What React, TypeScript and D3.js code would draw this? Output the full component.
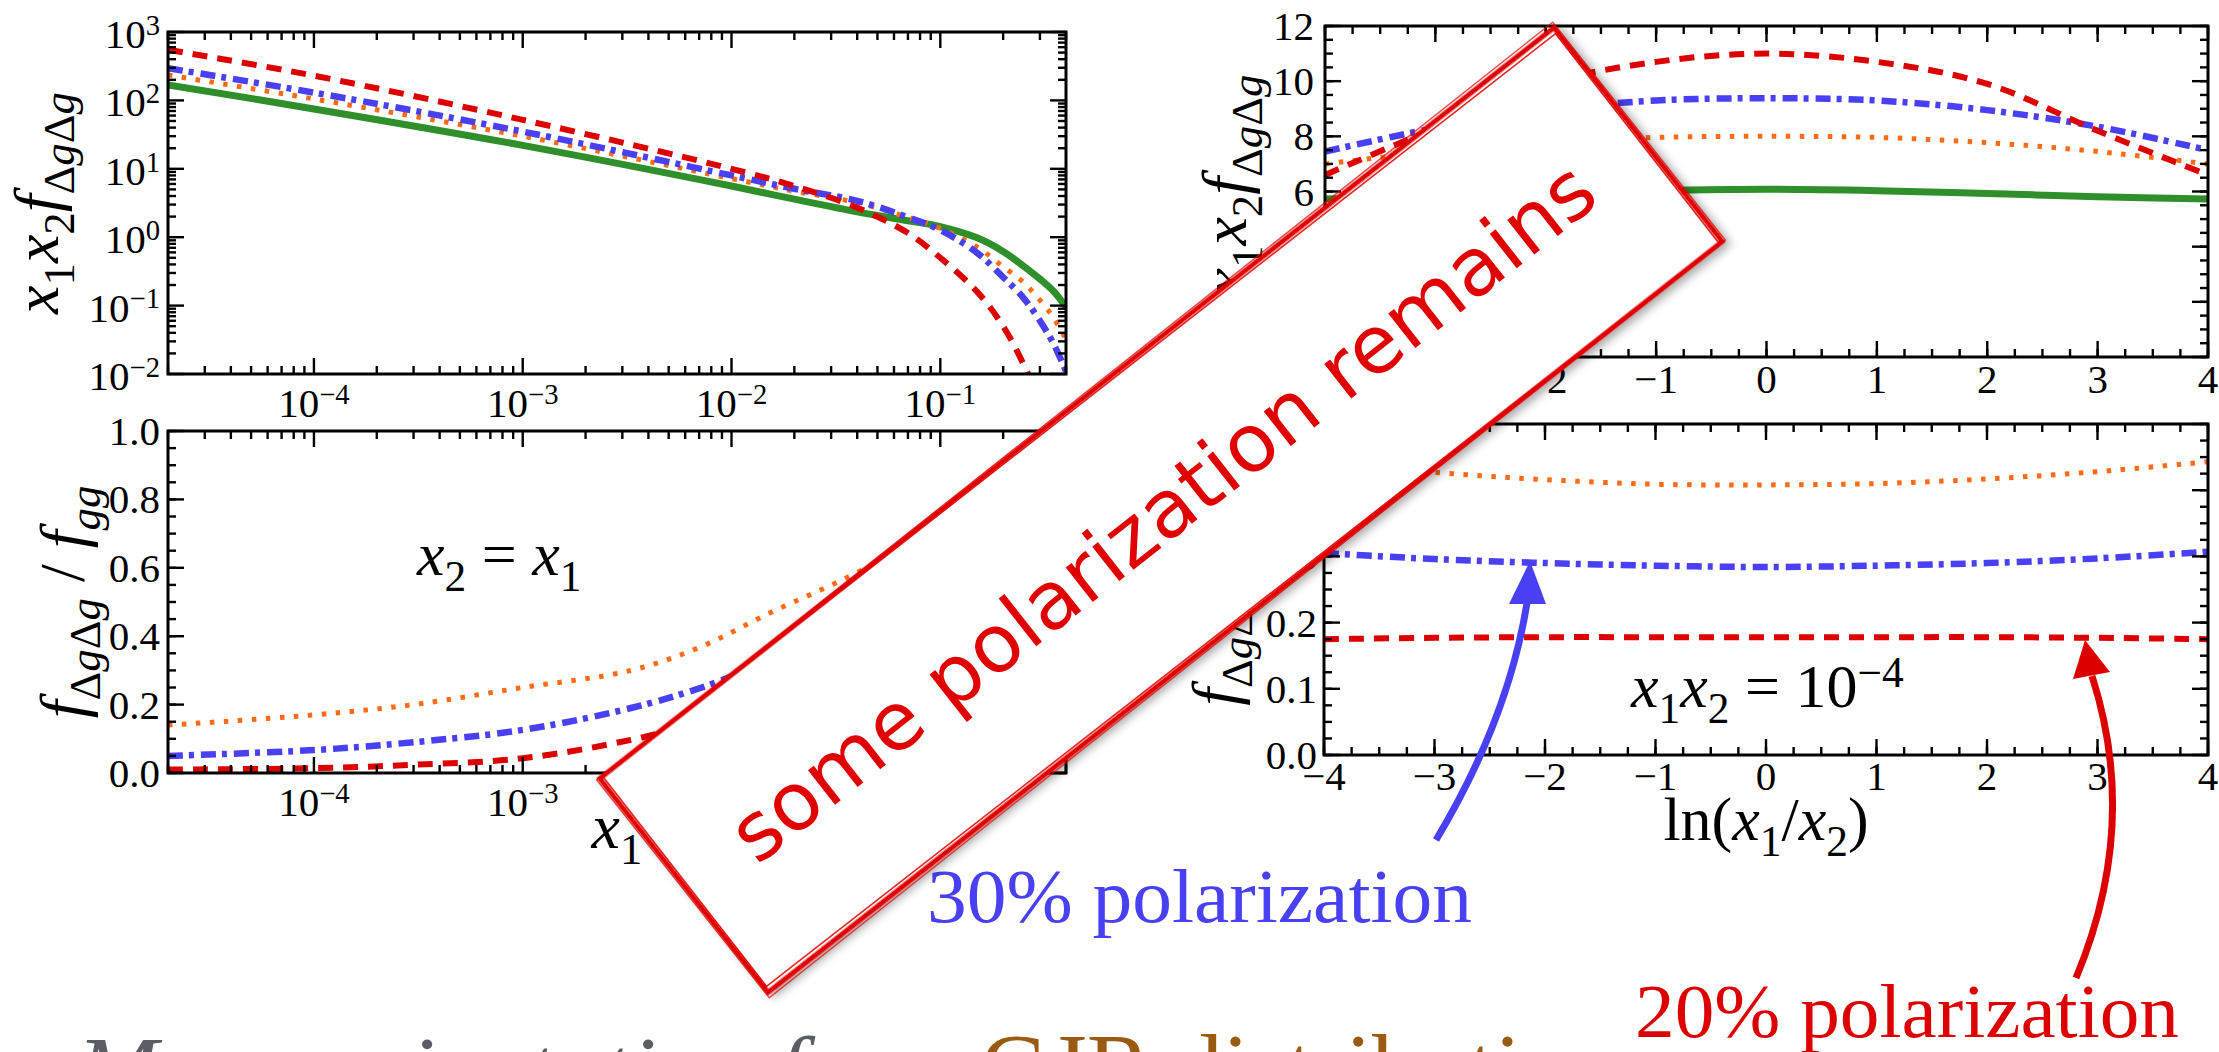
import React from "react";
import * as d3 from "d3";

// ---------- data ----------
// top-left: x1 = x2 scan, x1 x2 f_{ΔgΔg} (log-log)
const diagX = [2e-5, 1e-4, 1e-3, 1e-2, 0.02, 0.04, 0.07, 0.1, 0.15, 0.2, 0.25, 0.3, 0.35, 0.4];
const diagGreen = [168, 75, 22, 5.6, 3.6, 2.35, 1.74, 1.43, 0.98, 0.62, 0.38, 0.245, 0.16, 0.095];
const diagOrange = [235, 105, 30, 7.2, 4.7, 3.2, 1.95, 1.35, 0.72, 0.37, 0.22, 0.12, 0.065, 0.032];
const diagBlue = [295, 130, 35, 8.0, 5.1, 3.4, 1.95, 1.27, 0.59, 0.26, 0.13, 0.06, 0.027, 0.011];
const diagRed = [550, 230, 52, 10, 5.6, 2.7, 1.15, 0.5, 0.16, 0.05, 0.014, 0.004, 0.001, 0.0003];

// bottom-left: ratio f_{ΔgΔg}/f_{gg} at x1 = x2
const ratioX = [2e-5, 1e-4, 3e-4, 1e-3, 3.3e-3, 7.2e-3, 0.0155, 0.034, 0.073, 0.158, 0.25, 0.4];
const ratioOrange = [0.14, 0.17, 0.2, 0.25, 0.3, 0.37, 0.47, 0.565, 0.67, 0.8, 0.88, 0.96];
const ratioBlue = [0.05, 0.067, 0.09, 0.126, 0.19, 0.25, 0.33, 0.42, 0.52, 0.62, 0.68, 0.74];
const ratioRed = [0.01, 0.014, 0.024, 0.043, 0.097, 0.15, 0.22, 0.3, 0.39, 0.48, 0.53, 0.58];

// right column: scan in ln(x1/x2) at x1 x2 = 1e-4
const lnX = [-4, -3, -2, -1, 0, 1, 2, 3, 4];
const lnGreen = [5.73, 5.83, 5.93, 6.03, 6.08, 6.03, 5.93, 5.81, 5.73];
const lnOrange = [7.0, 7.45, 7.77, 7.96, 8.0, 7.96, 7.77, 7.45, 7.0];
const lnBlue = [7.45, 8.3, 8.95, 9.3, 9.38, 9.3, 8.95, 8.35, 7.5];
const lnRed = [6.6, 8.3, 9.9, 10.7, 11.0, 10.7, 9.9, 8.2, 6.6];

const lnRatioOrange = [0.443, 0.427, 0.416, 0.409, 0.408, 0.41, 0.417, 0.428, 0.443];
const lnRatioBlue = [0.305, 0.296, 0.29, 0.286, 0.284, 0.286, 0.29, 0.297, 0.307];
const lnRatioRed = [0.175, 0.177, 0.178, 0.178, 0.178, 0.178, 0.178, 0.177, 0.175];

// ---------- styling ----------
const SERIF = "'Liberation Serif', 'Times New Roman', serif";
const RED = "#dd0000";
const BLUE = "#4840f2";
const ORANGE = "#ff6b14";
const GREEN = "#2f8f2a";

const styles = {
  green: { stroke: GREEN, width: 7, dash: "none" },
  orange: { stroke: ORANGE, width: 5, dash: "4.5 9.5" },
  blue: { stroke: BLUE, width: 6.5, dash: "15 6 5 7" },
  red: { stroke: RED, width: 6, dash: "15 10" },
};

const P1 = { left: 168, right: 1066, top: 32, bottom: 374 };
const P2 = { left: 168, right: 1066, top: 431, bottom: 773 };
const P3 = { left: 1325, right: 2208, top: 26, bottom: 357 };
const P4 = { left: 1324, right: 2208, top: 424, bottom: 755 };

type Box = typeof P1;
type Part = { t: string; it?: boolean; sub?: boolean; sup?: boolean };

const x1s = d3.scaleLog().domain([2e-5, 0.4]).range([P1.left, P1.right]);
const y1s = d3.scaleLog().domain([1e-2, 1e3]).range([P1.bottom, P1.top]);
const y2s = d3.scaleLinear().domain([0, 1]).range([P2.bottom, P2.top]);
const x3s = d3.scaleLinear().domain([-4, 4]).range([P3.left, P3.right]);
const y3s = d3.scaleLinear().domain([0, 12]).range([P3.bottom, P3.top]);
const x4s = d3.scaleLinear().domain([-4, 4]).range([P4.left, P4.right]);
const y4s = d3.scaleLinear().domain([0, 0.5]).range([P4.bottom, P4.top]);

const isDecade = (v: number) => Math.abs(Math.log10(v) - Math.round(Math.log10(v))) < 1e-9;
const logMajor = (s: any) => s.ticks().filter(isDecade);
const logMinor = (s: any) => s.ticks().filter((v: number) => !isDecade(v));
const steps = (lo: number, hi: number, st: number) =>
  d3.range(Math.round((hi - lo) / st) + 1).map((i) => +(lo + i * st).toFixed(4));
const minus = (s: string) => s.replace("-", "\u2212");

function MathText({ parts, size, ...rest }: { parts: Part[]; size: number; [k: string]: any }) {
  let cur = 0;
  return (
    <text fontSize={size} fontFamily={SERIF} {...rest}>
      {parts.map((p, i) => {
        const target = p.sub ? 0.25 * size : p.sup ? -0.32 * size : 0;
        const dy = target - cur;
        cur = target;
        return (
          <tspan key={i} dy={dy} fontSize={p.sub || p.sup ? 0.7 * size : size} fontStyle={p.it ? "italic" : "normal"}>
            {p.t}
          </tspan>
        );
      })}
    </text>
  );
}

function Frame({ box, xs, ys, xMajor, xMinor, yMajor, yMinor }: any) {
  const M = 16;
  const m = 8;
  const segs: number[][] = [];
  xMajor.forEach((v: number) => {
    const x = xs(v);
    segs.push([x, box.bottom, x, box.bottom - M], [x, box.top, x, box.top + M]);
  });
  xMinor.forEach((v: number) => {
    const x = xs(v);
    segs.push([x, box.bottom, x, box.bottom - m], [x, box.top, x, box.top + m]);
  });
  yMajor.forEach((v: number) => {
    const y = ys(v);
    segs.push([box.left, y, box.left + M, y], [box.right, y, box.right - M, y]);
  });
  yMinor.forEach((v: number) => {
    const y = ys(v);
    segs.push([box.left, y, box.left + m, y], [box.right, y, box.right - m, y]);
  });
  return (
    <g stroke="#000">
      {segs.map((s, i) => (
        <line key={i} x1={s[0]} y1={s[1]} x2={s[2]} y2={s[3]} strokeWidth={2.4} />
      ))}
      <rect x={box.left} y={box.top} width={box.right - box.left} height={box.bottom - box.top} fill="none" strokeWidth={3} />
    </g>
  );
}

function Series({ xv, yv, xs, ys, st, clip }: any) {
  const gen = d3
    .line<number>()
    .x((_, i) => xs(xv[i]))
    .y((d) => ys(d))
    .curve(d3.curveCatmullRom.alpha(0.5));
  return (
    <path
      d={gen(yv) || ""}
      fill="none"
      stroke={st.stroke}
      strokeWidth={st.width}
      strokeDasharray={st.dash}
      clipPath={`url(#${clip})`}
    />
  );
}

const logLabel = (v: number): Part[] => [{ t: "10" }, { t: minus(String(Math.round(Math.log10(v)))), sup: true }];

const fDD: Part[] = [
  { t: "f", it: true },
  { t: "Δ", sub: true },
  { t: "g", sub: true, it: true },
  { t: "Δ", sub: true },
  { t: "g", sub: true, it: true },
];
const xxLabel: Part[] = [{ t: "x", it: true }, { t: "1", sub: true }, { t: "x", it: true }, { t: "2", sub: true }, ...fDD];
const ratioLabel: Part[] = [
  ...fDD,
  { t: " / " },
  { t: "f", it: true },
  { t: "g", sub: true, it: true },
  { t: "g", sub: true, it: true },
];

export default function App() {
  const TS = 41;
  const clips: [string, Box][] = [
    ["c1", P1],
    ["c2", P2],
    ["c3", P3],
    ["c4", P4],
  ];
  return (
    <div style={{ position: "fixed", left: 0, top: 0 }}>
      <svg width={2219} height={1052} style={{ display: "block", background: "#fff" }}>
        <defs>
          {clips.map(([id, b]) => (
            <clipPath id={id} key={id}>
              <rect x={b.left} y={b.top} width={b.right - b.left} height={b.bottom - b.top} />
            </clipPath>
          ))}
          <filter id="shadow" x="-10%" y="-30%" width="120%" height="160%">
            <feDropShadow dx="3" dy="5" stdDeviation="5" floodColor="#000" floodOpacity="0.35" />
          </filter>
        </defs>

        {/* ---------- top-left ---------- */}
        <Series xv={diagX} yv={diagGreen} xs={x1s} ys={y1s} st={styles.green} clip="c1" />
        <Series xv={diagX} yv={diagOrange} xs={x1s} ys={y1s} st={styles.orange} clip="c1" />
        <Series xv={diagX} yv={diagBlue} xs={x1s} ys={y1s} st={styles.blue} clip="c1" />
        <Series xv={diagX} yv={diagRed} xs={x1s} ys={y1s} st={styles.red} clip="c1" />
        <Frame box={P1} xs={x1s} ys={y1s} xMajor={logMajor(x1s)} xMinor={logMinor(x1s)} yMajor={logMajor(y1s)} yMinor={logMinor(y1s)} />
        {logMajor(y1s).map((v: number) => (
          <MathText key={v} parts={logLabel(v)} size={TS} x={P1.left - 8} y={y1s(v) + 16} textAnchor="end" />
        ))}
        {logMajor(x1s).map((v: number) => (
          <MathText key={v} parts={logLabel(v)} size={TS} x={x1s(v)} y={417} textAnchor="middle" />
        ))}
        <MathText parts={xxLabel} size={64} transform={`translate(58,${(P1.top + P1.bottom) / 2}) rotate(-90)`} textAnchor="middle" />

        {/* ---------- bottom-left ---------- */}
        <Series xv={ratioX} yv={ratioOrange} xs={x1s} ys={y2s} st={styles.orange} clip="c2" />
        <Series xv={ratioX} yv={ratioBlue} xs={x1s} ys={y2s} st={styles.blue} clip="c2" />
        <Series xv={ratioX} yv={ratioRed} xs={x1s} ys={y2s} st={styles.red} clip="c2" />
        <Frame box={P2} xs={x1s} ys={y2s} xMajor={logMajor(x1s)} xMinor={logMinor(x1s)} yMajor={steps(0, 1, 0.2)} yMinor={steps(0, 1, 0.05)} />
        {steps(0, 1, 0.2).map((v) => (
          <text key={v} x={P2.left - 8} y={y2s(v) + 14} fontSize={TS} fontFamily={SERIF} textAnchor="end">
            {d3.format(".1f")(v)}
          </text>
        ))}
        {logMajor(x1s).map((v: number) => (
          <MathText key={v} parts={logLabel(v)} size={TS} x={x1s(v)} y={816} textAnchor="middle" />
        ))}
        <MathText parts={ratioLabel} size={64} transform={`translate(84,${(P2.top + P2.bottom) / 2}) rotate(-90)`} textAnchor="middle" />
        <MathText parts={[{ t: "x", it: true }, { t: "1", sub: true }]} size={64} x={(P2.left + P2.right) / 2} y={848} textAnchor="middle" />
        <MathText
          parts={[{ t: "x", it: true }, { t: "2", sub: true }, { t: " = " }, { t: "x", it: true }, { t: "1", sub: true }]}
          size={62}
          x={417}
          y={575}
        />

        {/* ---------- top-right ---------- */}
        <Series xv={lnX} yv={lnGreen} xs={x3s} ys={y3s} st={styles.green} clip="c3" />
        <Series xv={lnX} yv={lnOrange} xs={x3s} ys={y3s} st={styles.orange} clip="c3" />
        <Series xv={lnX} yv={lnBlue} xs={x3s} ys={y3s} st={styles.blue} clip="c3" />
        <Series xv={lnX} yv={lnRed} xs={x3s} ys={y3s} st={styles.red} clip="c3" />
        <Frame box={P3} xs={x3s} ys={y3s} xMajor={steps(-4, 4, 1)} xMinor={steps(-4, 4, 0.25)} yMajor={steps(0, 12, 2)} yMinor={steps(0, 12, 0.5)} />
        {steps(0, 12, 2).map((v) => (
          <text key={v} x={P3.left - 11} y={y3s(v) + 14} fontSize={TS} fontFamily={SERIF} textAnchor="end">
            {v}
          </text>
        ))}
        {steps(-4, 4, 1).map((v) => (
          <text key={v} x={x3s(v)} y={393} fontSize={TS} fontFamily={SERIF} textAnchor="middle">
            {minus(String(v))}
          </text>
        ))}
        <MathText parts={xxLabel} size={64} transform={`translate(1246,${(P3.top + P3.bottom) / 2 - 6}) rotate(-90)`} textAnchor="middle" />

        {/* ---------- bottom-right ---------- */}
        <Series xv={lnX} yv={lnRatioOrange} xs={x4s} ys={y4s} st={styles.orange} clip="c4" />
        <Series xv={lnX} yv={lnRatioBlue} xs={x4s} ys={y4s} st={styles.blue} clip="c4" />
        <Series xv={lnX} yv={lnRatioRed} xs={x4s} ys={y4s} st={styles.red} clip="c4" />
        <Frame box={P4} xs={x4s} ys={y4s} xMajor={steps(-4, 4, 1)} xMinor={steps(-4, 4, 0.25)} yMajor={steps(0, 0.5, 0.1)} yMinor={steps(0, 0.5, 0.025)} />
        {steps(0, 0.5, 0.1).map((v) => (
          <text key={v} x={P4.left - 7} y={y4s(v) + 14} fontSize={TS} fontFamily={SERIF} textAnchor="end">
            {d3.format(".1f")(v)}
          </text>
        ))}
        {steps(-4, 4, 1).map((v) => (
          <text key={v} x={x4s(v)} y={790} fontSize={TS} fontFamily={SERIF} textAnchor="middle">
            {minus(String(v))}
          </text>
        ))}
        <MathText parts={ratioLabel} size={64} transform={`translate(1236,${(P4.top + P4.bottom) / 2}) rotate(-90)`} textAnchor="middle" />
        <MathText
          parts={[{ t: "ln(" }, { t: "x", it: true }, { t: "1", sub: true }, { t: "/" }, { t: "x", it: true }, { t: "2", sub: true }, { t: ")" }]}
          size={62}
          x={(P4.left + P4.right) / 2}
          y={840}
          textAnchor="middle"
        />
        <MathText
          parts={[
            { t: "x", it: true },
            { t: "1", sub: true },
            { t: "x", it: true },
            { t: "2", sub: true },
            { t: " = 10" },
            { t: "\u22124", sup: true },
          ]}
          size={62}
          x={1631}
          y={707}
        />

        {/* ---------- arrows & callouts ---------- */}
        <path d="M1436,840 Q1508,720 1527,603" fill="none" stroke={BLUE} strokeWidth={7} />
        <polygon points="1530,561 1509,604 1546,604" fill={BLUE} />
        <path d="M2076,978 Q2140,825 2092,676" fill="none" stroke={RED} strokeWidth={7} />
        <polygon points="2085,640 2073,679 2110,672" fill={RED} />

        <text x={927} y={922} fontSize={76} fontFamily={SERIF} fill={BLUE} textLength={545} lengthAdjust="spacingAndGlyphs">
          30% polarization
        </text>
        <text x={1635} y={1037} fontSize={76} fontFamily={SERIF} fill={RED} textLength={544} lengthAdjust="spacingAndGlyphs">
          20% polarization
        </text>
        <text x={77} y={1100} fontSize={92} fontFamily={SERIF} fontStyle="italic" fill="#5a5d63" textLength={880} lengthAdjust="spacingAndGlyphs">
          Mean orientation from
        </text>
        <text x={980} y={1100} fontSize={96} fontFamily={SERIF} fill="#9a5a12">
          GJR distribution
        </text>

        {/* ---------- sign ---------- */}
        <g transform="translate(1161,510) rotate(-38.2)">
          <rect x={-607} y={-136} width={1214} height={272} fill="#fff" stroke="#e00000" strokeWidth={5} filter="url(#shadow)" />
          <rect x={-604} y={-133} width={1208} height={266} fill="none" stroke="#e00000" strokeWidth={1.6} transform="rotate(0.25)" opacity={0.85} />
          <rect x={-610} y={-139} width={1220} height={278} fill="none" stroke="#e00000" strokeWidth={1.4} transform="rotate(-0.2)" opacity={0.7} />
          <text x={0} y={30} textAnchor="middle" fontFamily="'DejaVu Sans', Verdana, sans-serif" fontSize={80} fill="#e00000" textLength={1075} lengthAdjust="spacingAndGlyphs">
            some polarization remains
          </text>
        </g>
      </svg>
    </div>
  );
}
